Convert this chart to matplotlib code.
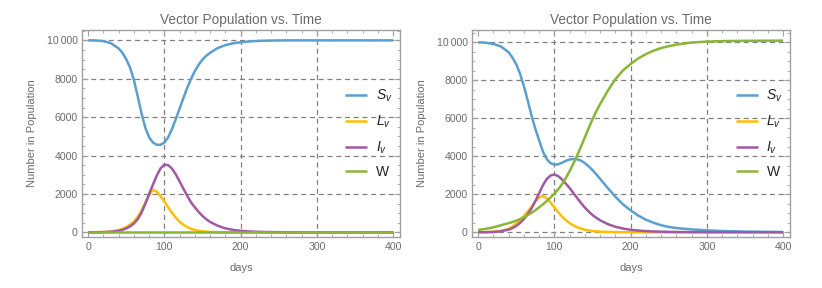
import matplotlib
matplotlib.use("Agg")
import matplotlib.pyplot as plt
from matplotlib.ticker import MultipleLocator, FixedLocator, FuncFormatter

plt.rcParams['font.family'] = ['Liberation Sans', 'DejaVu Sans']
plt.rcParams['mathtext.fontset'] = 'custom'
plt.rcParams['mathtext.rm'] = 'Liberation Sans'
plt.rcParams['mathtext.it'] = 'Liberation Sans:italic'

# ---------------- data ----------------
days = [0, 10, 20, 30, 40, 45, 50, 55, 60, 65, 70, 75, 80, 85, 90, 95, 100, 105, 110,
        115, 120, 125, 130, 135, 140, 145, 150, 155, 160, 170, 180, 190, 200, 210, 220,
        230, 240, 250, 260, 280, 300, 320, 350, 400]

# left panel
sv_a = [10000, 9995, 9960, 9850, 9580, 9350, 9020, 8580, 7950, 7100, 6200, 5450, 4950,
        4680, 4560, 4560, 4680, 4950, 5380, 5900, 6450, 7000, 7530, 8000, 8400, 8730,
        9000, 9200, 9350, 9600, 9750, 9850, 9900, 9940, 9965, 9980, 9990, 9995, 10000,
        10000, 10000, 10000, 10000, 10000]
lv_a = [0, 5, 15, 40, 110, 180, 270, 400, 560, 800, 1130, 1540, 1920, 2210, 2120, 1880,
        1600, 1300, 1010, 760, 550, 390, 270, 185, 120, 80, 50, 32, 20, 8, 3, 1, 0, 0, 0,
        0, 0, 0, 0, 0, 0, 0, 0, 0]
iv_a = [0, 3, 10, 30, 80, 130, 200, 310, 460, 680, 1020, 1480, 2000, 2480, 2950, 3330,
        3530, 3500, 3320, 3020, 2650, 2270, 1900, 1560, 1300, 1060, 850, 680, 540, 340,
        205, 125, 78, 48, 29, 18, 11, 7, 4, 2, 1, 0, 0, 0]
w_a = [0] * len(days)

# right panel
sv_b = [10000, 9980, 9920, 9780, 9480, 9200, 8850, 8350, 7700, 6950, 6150, 5450, 4850,
        4250, 3850, 3640, 3560, 3580, 3660, 3760, 3830, 3860, 3840, 3770, 3640, 3470,
        3270, 3050, 2810, 2330, 1870, 1470, 1150, 880, 660, 500, 370, 280, 220, 150, 100,
        65, 35, 12]
lv_b = [0, 5, 25, 70, 180, 300, 450, 640, 850, 1080, 1340, 1620, 1840, 1900, 1790, 1570,
        1310, 1060, 830, 640, 480, 360, 260, 190, 130, 95, 65, 45, 30, 15, 7, 4, 2, 1, 0,
        0, 0, 0, 0, 0, 0, 0, 0, 0]
iv_b = [0, 3, 15, 50, 140, 220, 330, 490, 690, 950, 1250, 1640, 2050, 2480, 2800, 2990,
        3040, 2960, 2780, 2560, 2330, 2060, 1800, 1540, 1300, 1090, 910, 760, 630, 430,
        290, 195, 130, 90, 60, 42, 30, 20, 14, 7, 4, 2, 1, 0]
w_b = [120, 180, 260, 370, 480, 540, 610, 690, 790, 900, 1020, 1160, 1310, 1470, 1640,
       1830, 2030, 2260, 2530, 2850, 3220, 3620, 4050, 4520, 5000, 5480, 5950, 6370, 6750,
       7450, 8060, 8520, 8860, 9150, 9380, 9560, 9700, 9800, 9880, 9990, 10040, 10065,
       10080, 10090]

labels = ['$S_v$', '$L_v$', '$I_v$', 'W']
colors = ['#5B9FCF', '#FFBF00', '#A05AA4', '#8AB536']
x_ticks = [0, 100, 200, 300, 400]
y_ticks = [0, 2000, 4000, 6000, 8000, 10000]
title = 'Vector Population vs. Time'
xlabel = 'days'
ylabel = 'Number in Population'

GRAY = '#6B6B6B'
FRAME = '#A0A0A0'

fig = plt.figure(figsize=(8.22, 2.88), dpi=100)
W, H = 822, 288


def fmt(v, pos):
    v = int(round(v))
    if v >= 10000:
        return f"{v // 1000}\u2009{v % 1000:03d}"
    return str(v)


def panel(left_px, series, ylim, leg_x):
    ax = fig.add_axes([left_px / W, 51 / H, 318 / W, 207 / H])
    for s, c, lab in zip(series, colors, labels):
        ax.plot(days, s, color=c, lw=1.8, label=lab, solid_capstyle='butt', zorder=3)
    ax.set_xlim(-8, 409)
    ax.set_ylim(*ylim)
    ax.xaxis.set_major_locator(FixedLocator(x_ticks))
    ax.yaxis.set_major_locator(FixedLocator(y_ticks))
    ax.xaxis.set_minor_locator(MultipleLocator(20))
    ax.yaxis.set_minor_locator(MultipleLocator(500))
    ax.yaxis.set_major_formatter(FuncFormatter(fmt))
    for sp in ax.spines.values():
        sp.set_color(FRAME)
        sp.set_linewidth(1.0)
    ax.tick_params(which='both', direction='in', top=True, right=True,
                   color=FRAME, labelcolor=GRAY, labelsize=7.6)
    ax.tick_params(which='major', length=4, width=0.8)
    ax.tick_params(which='minor', length=2, width=0.6)
    ax.tick_params(axis='x', pad=3.5)
    ax.tick_params(axis='y', pad=3)
    for gx in [100, 200, 300]:
        ax.axvline(gx, color='#808080', lw=0.9, ls=(0, (4, 3)), zorder=1)
    for gy in y_ticks:
        ax.axhline(gy, color='#808080', lw=0.9, ls=(0, (4, 3)), zorder=1)
    ax.set_title(title, color=GRAY, fontsize=9.8, pad=4.5)
    ax.set_xlabel(xlabel, color=GRAY, fontsize=8)
    ax.set_ylabel(ylabel, color=GRAY, fontsize=8)
    ax.xaxis.set_label_coords(0.5, -0.125)
    ax.yaxis.set_label_coords(-0.142, 0.5)
    leg = ax.legend(loc='center left', bbox_to_anchor=(leg_x, 0.5), frameon=False,
                    fontsize=10, handlelength=1.6, handletextpad=0.6,
                    labelspacing=0.68, borderpad=0, borderaxespad=0)
    for t in leg.get_texts():
        t.set_color('#222222')
    return ax


panel(82, [sv_a, lv_a, iv_a, w_a], (-245, 10540), 0.827)
panel(472, [sv_b, lv_b, iv_b, w_b], (-250, 10650), 0.830)

fig.savefig('out.png', dpi=100)
